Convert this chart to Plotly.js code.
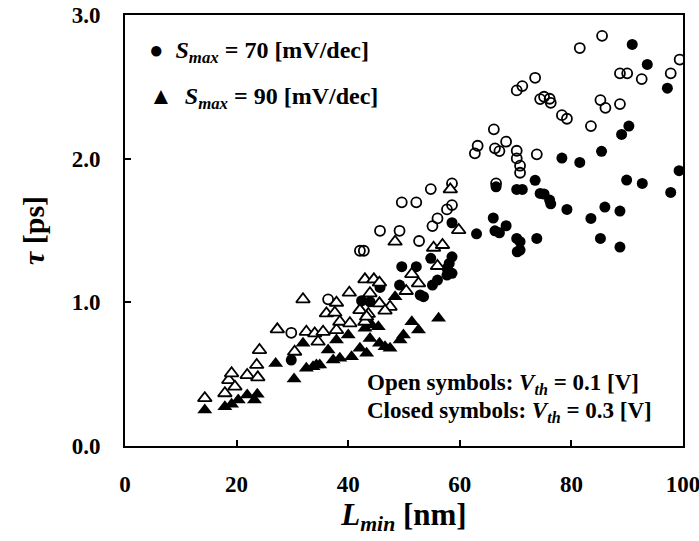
<!DOCTYPE html>
<html>
<head>
<meta charset="utf-8">
<script src="https://cdn.plot.ly/plotly-3.0.1.min.js"></script>
<style>html,body{margin:0;padding:0;background:#fff;}#chart{width:699px;height:541px;}</style>
</head>
<body>
<div id="chart"></div>
<script>
// Smax = 70 mV/dec (circles)
const circOpenX = [29.8,36.4,42.1,42.8,45.7,49.2,52.7,49.6,52.2,55.1,56.0,57.7,58.6,54.8,58.6,62.7,63.2,66.3,67.1,66.5,66.1,68.3,70.2,70.2,70.8,70.8,73.8,70.2,71.2,73.5,74.4,75.1,76.1,76.3,78.3,79.2,81.5,83.5,85.2,86.1,85.5,88.7,88.7,90.0,92.6,97.8,99.4];
const circOpenY = [0.788,1.021,1.359,1.359,1.498,1.498,1.427,1.696,1.696,1.531,1.584,1.647,1.677,1.788,1.828,2.037,2.09,2.072,2.053,1.828,2.204,2.118,2.055,2.002,1.951,1.902,2.03,2.475,2.505,2.563,2.415,2.431,2.417,2.389,2.303,2.278,2.77,2.227,2.408,2.354,2.855,2.38,2.594,2.594,2.554,2.594,2.69];
const circFillX = [29.8,42.4,43.9,45.7,49.2,49.6,52.2,52.9,53.5,54.8,55.1,56.0,58.6,58.6,58.1,57.7,58.6,57.7,63.0,66.0,66.3,67.1,68.3,66.5,70.2,71.2,70.2,70.8,70.3,70.8,73.5,73.8,74.4,75.1,76.1,76.3,78.3,79.2,81.5,83.5,85.4,85.2,86.0,88.7,88.7,89.0,90.3,89.9,90.9,92.7,93.6,97.2,97.8,99.3];
const circFillY = [0.598,1.011,1.004,1.104,1.12,1.248,1.248,1.051,1.039,1.306,1.12,1.155,1.554,1.317,1.271,1.237,1.202,1.19,1.477,1.587,1.498,1.484,1.533,1.804,1.786,1.786,1.445,1.422,1.352,1.364,1.849,1.445,1.758,1.754,1.712,1.686,2.004,1.647,1.974,1.584,2.051,1.445,1.663,1.635,1.385,2.169,2.227,1.851,2.795,1.828,2.656,2.491,1.765,1.916];
// Smax = 90 mV/dec (triangles)
const triOpenX = [14.3,17.9,18.6,19.1,19.7,21.9,23.6,23.8,24.1,27.3,30.4,31.9,32.5,34.0,35.5,34.6,37.9,38.5,40.3,43.0,36.1,37.6,42.1,43.6,43.3,45.6,47.5,46.6,37.9,40.2,43.9,43.0,44.6,45.6,50.4,52.6,51.4,56.0,55.3,56.9,48.4,59.8,58.3];
const triOpenY = [0.333,0.367,0.459,0.506,0.413,0.494,0.564,0.478,0.668,0.812,0.656,1.021,0.795,0.784,0.795,0.726,0.807,0.865,0.854,0.865,0.923,0.928,0.946,0.919,0.9,0.993,0.969,0.942,0.997,1.067,1.063,1.16,1.16,1.137,1.079,1.132,1.197,1.253,1.38,1.399,1.422,1.503,1.786];
const triFillX = [14.3,17.9,19.1,20.3,21.9,23.7,23.2,27.0,30.3,31.9,32.5,33.7,34.3,34.9,37.3,38.5,40.6,43.3,42.1,36.4,37.9,40.0,43.0,44.2,45.4,43.9,45.6,47.5,46.6,49.3,49.9,51.4,52.6,56.2,48.4];
const triFillY = [0.25,0.274,0.29,0.32,0.355,0.36,0.32,0.575,0.466,0.715,0.541,0.552,0.564,0.564,0.598,0.61,0.621,0.645,0.68,0.668,0.738,0.772,0.819,0.842,0.83,0.749,0.715,0.68,0.691,0.738,0.772,0.865,0.807,0.889,1.039];

const xTickVals = [0,20,40,60,80,100];
const yTickVals = [0,1,2,3];

const serif = "Liberation Serif, Times New Roman, serif";
const lineC = {color:'#000', width:1.8};

const traces = [
  {x:circOpenX, y:circOpenY, type:'scatter', mode:'markers', name:'open70',
   marker:{symbol:'circle-open', size:10, color:'#000', line:lineC}},
  {x:circFillX, y:circFillY, type:'scatter', mode:'markers', name:'fill70',
   marker:{symbol:'circle', size:11, color:'#000', line:{color:'#000', width:0}}},
  {x:triFillX, y:triFillY, type:'scatter', mode:'markers', name:'fill90',
   marker:{symbol:'triangle-up', size:13, color:'#000', line:{color:'#000', width:0}}},
  {x:triOpenX, y:triOpenY, type:'scatter', mode:'markers', name:'open90',
   marker:{symbol:'triangle-up', size:12, color:'#fff', line:lineC}}
];

const tickFont = {family:serif, size:23, color:'#000', weight:'bold'};
const annFont = {family:serif, size:24, color:'#000', weight:'bold'};
const noteFont = {family:serif, size:23, color:'#000', weight:'bold'};
const layout = {
  width:699, height:541,
  margin:{l:125, r:16, t:15, b:95},
  paper_bgcolor:'#fff', plot_bgcolor:'#fff',
  showlegend:false,
  font:{family:serif, color:'#000'},
  xaxis:{range:[0,100], tickvals:xTickVals, ticktext:xTickVals.map(String),
    showgrid:false, zeroline:false, showline:true, mirror:true, linecolor:'#000', linewidth:2,
    ticks:'inside', ticklen:6, tickwidth:2, tickcolor:'#000', tickfont:tickFont, ticklabelstandoff:16,
    ticklabeloverflow:'allow',
    title:{text:'<b><i>L</i><sub><i>min</i></sub> [nm]</b>', font:{family:serif, size:31, color:'#000', weight:'bold'}, standoff:6}},
  yaxis:{range:[0,3], tickvals:yTickVals, ticktext:yTickVals.map(v=>v.toFixed(1)),
    showgrid:false, zeroline:false, showline:true, mirror:true, linecolor:'#000', linewidth:2,
    ticks:'inside', ticklen:6, tickwidth:2, tickcolor:'#000', tickfont:tickFont, ticklabelstandoff:18,
    title:{text:'<b><i>τ</i> [ps]</b>', font:{family:serif, size:30, color:'#000', weight:'bold'}, standoff:18}},
  annotations:[
    {xref:'paper', yref:'paper', x:0.04, y:0.914, xanchor:'left', yanchor:'middle', showarrow:false,
     text:'<b>●  <i>S</i><sub><i>max</i></sub> = 70 [mV/dec]</b>', font:annFont},
    {xref:'paper', yref:'paper', x:0.04, y:0.807, xanchor:'left', yanchor:'middle', showarrow:false,
     text:'<b>▲  <i>S</i><sub><i>max</i></sub> = 90 [mV/dec]</b>', font:annFont},
    {xref:'paper', yref:'paper', x:0.43, y:0.143, xanchor:'left', yanchor:'middle', showarrow:false,
     text:'<b>Open symbols: <i>V</i><sub><i>th</i></sub> = 0.1 [V]</b>', font:noteFont},
    {xref:'paper', yref:'paper', x:0.43, y:0.079, xanchor:'left', yanchor:'middle', showarrow:false,
     text:'<b>Closed symbols: <i>V</i><sub><i>th</i></sub> = 0.3 [V]</b>', font:noteFont}
  ]
};

Plotly.newPlot('chart', traces, layout, {staticPlot:true, displayModeBar:false});
</script>
</body>
</html>
